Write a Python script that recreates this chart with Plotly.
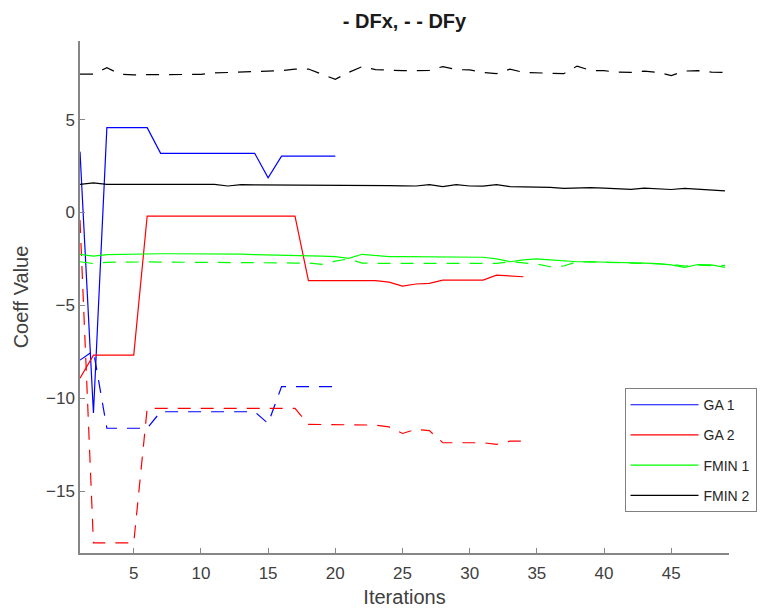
import plotly.graph_objects as go

# ---------------- data ----------------
ga1_dfx = [3.28, -10.8, 4.57, 4.57, 4.57, 4.57, 3.19, 3.19, 3.19, 3.19,
           3.19, 3.19, 3.19, 3.19, 1.87, 3.04, 3.04, 3.04, 3.04, 3.04]
ga1_dfy = [-7.95, -7.45, -11.62, -11.62, -11.62, -11.62, -10.73, -10.73, -10.73, -10.73,
           -10.73, -10.73, -10.73, -10.73, -11.36, -9.38, -9.38, -9.38, -9.38, -9.38]

ga2_dfx = [-8.93, -7.68, -7.68, -7.68, -7.68, -0.19, -0.19, -0.19, -0.19, -0.19,
           -0.19, -0.19, -0.19, -0.19, -0.19, -0.19, -0.19, -3.67, -3.67, -3.67,
           -3.67, -3.67, -3.67, -3.75, -3.96, -3.85, -3.82, -3.64, -3.64, -3.64,
           -3.64, -3.37, -3.43, -3.46]
ga2_dfy = [-0.4, -17.79, -17.79, -17.79, -17.79, -10.55, -10.55, -10.55, -10.55, -10.55,
           -10.55, -10.55, -10.55, -10.55, -10.55, -10.55, -10.55, -11.41, -11.41, -11.41,
           -11.41, -11.41, -11.45, -11.55, -11.9, -11.68, -11.75, -12.4, -12.4, -12.4,
           -12.4, -12.49, -12.31, -12.31]

fmin1_dfx = [-2.25, -2.35, -2.27, -2.25, -2.22, -2.22, -2.22, -2.22, -2.22, -2.22,
             -2.23, -2.23, -2.24, -2.27, -2.28, -2.30, -2.31, -2.33, -2.35, -2.38,
             -2.47, -2.25, -2.33, -2.38, -2.38, -2.39, -2.39, -2.40, -2.40, -2.41,
             -2.41, -2.50, -2.65, -2.55, -2.50, -2.55, -2.60, -2.65, -2.65, -2.68,
             -2.70, -2.72, -2.73, -2.75, -2.82, -2.95, -2.80, -2.82, -2.95]
fmin1_dfy = [-2.65, -2.75, -2.68, -2.66, -2.66, -2.66, -2.67, -2.67, -2.68, -2.68,
             -2.69, -2.69, -2.70, -2.70, -2.71, -2.71, -2.72, -2.72, -2.79, -2.62,
             -2.50, -2.72, -2.74, -2.74, -2.74, -2.74, -2.74, -2.74, -2.74, -2.74,
             -2.74, -2.74, -2.65, -2.70, -2.78, -2.92, -2.88, -2.65, -2.66, -2.68,
             -2.70, -2.72, -2.74, -2.76, -2.80, -2.88, -2.84, -2.86, -2.85]

fmin2_dfx = [1.52, 1.60, 1.52, 1.52, 1.52, 1.51, 1.51, 1.51, 1.51, 1.50,
             1.52, 1.43, 1.50, 1.49, 1.49, 1.49, 1.48, 1.48, 1.47, 1.47,
             1.46, 1.46, 1.45, 1.45, 1.44, 1.43, 1.50, 1.40, 1.50, 1.43,
             1.42, 1.50, 1.40, 1.39, 1.38, 1.35, 1.30, 1.33, 1.34, 1.32,
             1.27, 1.25, 1.32, 1.28, 1.24, 1.30, 1.25, 1.24, 1.17]
fmin2_dfy = [7.46, 7.46, 7.80, 7.45, 7.42, 7.42, 7.42, 7.42, 7.42, 7.44,
             7.52, 7.54, 7.55, 7.58, 7.62, 7.64, 7.72, 7.73, 7.45, 7.18,
             7.55, 7.86, 7.70, 7.65, 7.64, 7.64, 7.66, 7.86, 7.70, 7.68,
             7.55, 7.48, 7.72, 7.55, 7.53, 7.50, 7.48, 7.89, 7.65, 7.64,
             7.56, 7.55, 7.62, 7.55, 7.38, 7.62, 7.64, 7.56, 7.55]

series = [
    ("GA 1", "#0000FF", ga1_dfx, ga1_dfy),
    ("GA 2", "#FF0000", ga2_dfx, ga2_dfy),
    ("FMIN 1", "#00FF00", fmin1_dfx, fmin1_dfy),
    ("FMIN 2", "#000000", fmin2_dfx, fmin2_dfy),
]

x_ticks = [5, 10, 15, 20, 25, 30, 35, 40, 45]
y_ticks = [5, 0, -5, -10, -15]

FONT = "Liberation Sans, Arial, Helvetica, sans-serif"
AXIS_COLOR = "#868686"
TEXT_COLOR = "#404040"

fig = go.Figure()
for name, color, dfx, dfy in series:
    xs = list(range(1, len(dfx) + 1))
    fig.add_trace(go.Scatter(x=xs, y=dfx, mode="lines", name=name,
                             legendgroup=name,
                             line=dict(color=color, width=1.2)))
    fig.add_trace(go.Scatter(x=xs, y=dfy, mode="lines", name=name + " DFy",
                             legendgroup=name, showlegend=False,
                             line=dict(color=color, width=1.2, dash="13px,10px")))

fig.update_layout(
    width=766, height=612,
    margin=dict(l=72, r=45, t=33, b=67, autoexpand=False),
    paper_bgcolor="white", plot_bgcolor="white",
    font=dict(family=FONT, size=17, color=TEXT_COLOR),
    title=dict(text="<b>- DFx, - - DFy</b>", x=0.5, xref="paper", xanchor="center",
               y=1 - 13 / 612, yanchor="middle",
               font=dict(family=FONT, size=20, color="#1a1a1a")),
    showlegend=True,
    legend=dict(x=0.839, y=0.322, xanchor="left", yanchor="top",
                bgcolor="white", bordercolor="#808080", borderwidth=1,
                font=dict(family=FONT, size=14, color="#262626"),
                tracegroupgap=9, itemwidth=68,
                entrywidth=118, entrywidthmode="pixels"),
)

fig.update_xaxes(range=[1, 49.3], tickvals=x_ticks, ticks="inside", ticklen=5,
                 tickcolor=AXIS_COLOR, showline=True, linecolor=AXIS_COLOR, linewidth=1.5,
                 showgrid=False, zeroline=False, mirror=False, automargin=False,
                 ticklabelstandoff=4,
                 tickfont=dict(size=17, color=TEXT_COLOR),
                 title=dict(text="Iterations", standoff=8,
                            font=dict(size=20, color=TEXT_COLOR)))
fig.update_yaxes(range=[-18.34, 9.24], tickvals=y_ticks, ticks="inside", ticklen=5,
                 tickcolor=AXIS_COLOR, showline=True, linecolor=AXIS_COLOR, linewidth=1.5,
                 showgrid=False, zeroline=False, mirror=False, automargin=False,
                 tickfont=dict(size=17, color=TEXT_COLOR),
                 title=dict(text="Coeff Value", standoff=12,
                            font=dict(size=20, color=TEXT_COLOR)))

fig.write_html("out.html")
